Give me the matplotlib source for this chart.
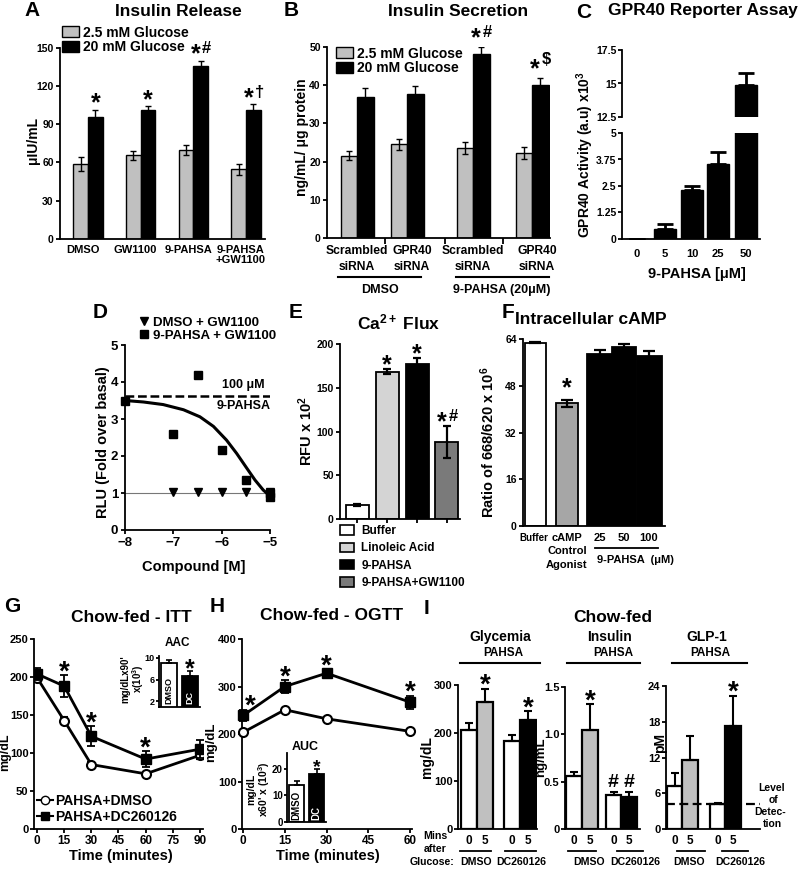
import matplotlib
matplotlib.use('Agg')
import matplotlib.pyplot as plt
from matplotlib.lines import Line2D
from matplotlib.patches import Patch
import numpy as np

# ------------------------------------------------------------------ data
# A: Insulin release
a_groups = ['DMSO', 'GW1100', '9-PAHSA', '9-PAHSA\n+GW1100']
a_low = [58.5, 65.5, 70, 54.5]
a_low_err = [5.5, 3.4, 4, 4]
a_high = [95.5, 101, 135.5, 101.5]
a_high_err = [5.8, 3.4, 4.4, 4]
a_marks = ['*', '*', '*#', '*†']
glucose_legend = ['2.5 mM Glucose', '20 mM Glucose']

# B: Insulin secretion
b_groups = ['Scrambled\nsiRNA', 'GPR40\nsiRNA', 'Scrambled\nsiRNA', 'GPR40\nsiRNA']
b_low = [21.6, 24.5, 23.6, 22.3]
b_low_err = [1.2, 1.5, 1.5, 1.6]
b_high = [36.8, 37.6, 48.1, 40.0]
b_high_err = [2.4, 2.2, 1.8, 1.8]
b_marks = ['', '', '*#', '*$']
b_treat = ['DMSO', '9-PAHSA (20μM)']

# C: GPR40 reporter
c_conc = ['0', '5', '10', '25', '50']
c_vals = [0, 0.47, 2.31, 3.52, 14.9]
c_err = [0, 0.25, 0.19, 0.6, 0.9]

# D: dose response
d_pahsa_x = [-8, -7, -6.5, -6, -5.5, -5, -5]
d_pahsa_y = [3.49, 2.6, 4.2, 2.17, 1.36, 1.0, 0.9]
d_dmso_x = [-7, -6.5, -6, -5.5, -5]
d_dmso_y = [1.02, 1.02, 1.02, 1.02, 1.02]
d_dmso_fit_x = [-8, -5]
d_dmso_fit_y = [1.0, 1.0]
d_fit_x = [-8.0, -7.62, -7.21, -6.79, -6.45, -6.17, -5.90, -5.69, -5.48, -5.31, -5.14, -5.0]
d_fit_y = [3.50, 3.46, 3.39, 3.25, 3.06, 2.80, 2.43, 2.07, 1.67, 1.35, 1.08, 0.92]
d_ref = 3.62
d_legend = ['DMSO + GW1100', '9-PAHSA + GW1100']

# E: Ca2+ flux
e_labels = ['Buffer', 'Linoleic Acid', '9-PAHSA', '9-PAHSA+GW1100']
e_vals = [16, 168.5, 177, 88]
e_err = [1, 3, 7.5, 18]
e_colors = ['white', '#d4d4d4', 'black', '#7a7a7a']
e_marks = ['', '*', '*', '*#']

# F: cAMP
f_labels = ['Buffer', 'cAMP\nControl\nAgonist', '25', '50', '100']
f_vals = [62.9, 42.1, 58.9, 61.2, 58.4]
f_err = [0.3, 1.2, 1.4, 1.2, 1.7]
f_colors = ['white', '#a6a6a6', 'black', 'black', 'black']
f_marks = ['', '*', '', '', '']

# G: ITT
g_time = [0, 15, 30, 60, 90]
g_dmso = [199, 142.6, 84.8, 72.6, 97]
g_dmso_err = [4, 5, 3, 3, 5]
g_dc = [204, 188, 122, 92, 105]
g_dc_err = [8, 14, 13, 10, 12]
g_marks = ['', '*', '*', '*', '']
g_legend = ['PAHSA+DMSO', 'PAHSA+DC260126']
g_inset = [9.0, 6.7]
g_inset_err = [0.6, 0.8]

# H: OGTT
h_time = [0, 15, 30, 60]
h_dmso = [203.5, 251, 232, 205.6]
h_dmso_err = [4, 4, 4, 4]
h_dc = [239, 300, 328, 267]
h_dc_err = [12, 13, 8, 14]
h_marks = ['*', '*', '*', '*']
h_inset = [14.0, 18.0]
h_inset_err = [1.3, 2.0]

# I: chow-fed glucose challenge
i_mins = ['0', '5', '0', '5']
i_treat = ['DMSO', 'DC260126']
i_colors = ['white', '#c0c0c0', 'white', 'black']
i_gly = [206, 264, 184, 227]
i_gly_err = [15, 28, 11, 18]
i_gly_marks = ['', '*', '', '*']
i_ins = [0.555, 1.05, 0.36, 0.336]
i_ins_err = [0.045, 0.27, 0.03, 0.055]
i_ins_marks = ['', '*', '#', '#']
i_glp = [7.2, 11.6, 4.2, 17.3]
i_glp_err = [2.2, 4.0, 0.1, 5.1]
i_glp_marks = ['', '', '', '*']
i_glp_lod = 4.2

# ------------------------------------------------------------------ style
plt.rcParams.update({
    'font.family': ['Liberation Sans', 'DejaVu Sans'],
    'font.weight': 'bold',
    'axes.labelweight': 'bold',
    'axes.linewidth': 1.3,
    'mathtext.fontset': 'custom',
    'mathtext.rm': 'Liberation Sans:bold',
    'mathtext.it': 'Liberation Sans:bold',
    'mathtext.bf': 'Liberation Sans:bold',
    'mathtext.default': 'rm',
    'xtick.major.width': 1.3, 'ytick.major.width': 1.3,
    'xtick.major.size': 3, 'ytick.major.size': 3,
})

W, H = 800, 871
fig = plt.figure(figsize=(W / 100, H / 100), dpi=100)
GRAY = '#c0c0c0'


def axpx(l, t, r, b):
    return fig.add_axes([l / W, 1 - b / H, (r - l) / W, (b - t) / H])


def txt(x, y, s, size=9, ha='center', va='center', **kw):
    fig.text(x / W, 1 - y / H, s, fontsize=size, ha=ha, va=va, fontweight='bold', **kw)


def hl(x0, x1, y, lw=1.5, **kw):
    fig.add_artist(Line2D([x0 / W, x1 / W], [1 - y / H, 1 - y / H], color='k', lw=lw, **kw))


def style(ax, ts=7.5):
    for s in ['top', 'right']:
        ax.spines[s].set_visible(False)
    ax.tick_params(labelsize=ts, pad=1.5)


def draw_bars(ax, x, h, err, w, color, up_only=False, cap=2.0, elw=1.0, lw=1.0):
    ax.bar(x, h, w, color=color, edgecolor='black', linewidth=lw, zorder=2)
    err = np.asarray(err, float)
    yerr = np.vstack([np.zeros_like(err), err]) if up_only else err
    ax.errorbar(x, h, yerr=yerr, fmt='none', ecolor='black', elinewidth=elw,
                capsize=cap, capthick=elw, zorder=3)


def mark(ax, x, y, s, dy=13, size=18, ssize=12, dx=0, sdy=0):
    """Significance mark, visual centre dy pixels above (x, y)."""
    if not s:
        return
    if s[0] == '*':
        rest = s[1:]
        sx = dx - (5 if rest else 0)
        ax.annotate('*', (x, y), xytext=(sx * 0.72, dy * 0.72 - 0.58 * size),
                    textcoords='offset points', ha='center', va='baseline',
                    fontsize=size, fontweight='bold', annotation_clip=False)
        if rest:
            ax.annotate(rest, (x, y),
                        xytext=((dx + 6) * 0.72, (dy - sdy) * 0.72 - 0.35 * ssize),
                        textcoords='offset points', ha='center', va='baseline',
                        fontsize=ssize, fontweight='bold', annotation_clip=False)
    else:
        ax.annotate(s, (x, y), xytext=(dx * 0.72, dy * 0.72 - 0.35 * ssize),
                    textcoords='offset points', ha='center', va='baseline',
                    fontsize=ssize, fontweight='bold', annotation_clip=False)


# ================================================================== A
axA = axpx(60, 47.7, 265, 239)
style(axA)
xa = np.arange(len(a_groups))
bw = 0.28
draw_bars(axA, xa - bw / 2, a_low, a_low_err, bw, GRAY)
draw_bars(axA, xa + bw / 2, a_high, a_high_err, bw, 'black')
axA.set_xlim(-0.53, 3.36)
axA.set_ylim(0, 150)
axA.set_yticks(np.arange(0, 151, 30))
axA.set_xticks(xa - 0.1)
axA.set_xticklabels(a_groups, fontsize=8, linespacing=1.0)
axA.tick_params(axis='x', length=0, pad=4)
for xi, h, e, m in zip(xa, a_high, a_high_err, a_marks):
    mark(axA, xi + bw / 2, h + e, m, dy=13.5)
axA.legend([Patch(facecolor=GRAY, edgecolor='k', lw=1), Patch(facecolor='k', edgecolor='k')],
           glucose_legend, loc='upper left', bbox_to_anchor=(0.01, 1.115), frameon=False,
           fontsize=10, handlelength=1.2, handleheight=0.85, handletextpad=0.3,
           labelspacing=0.05, borderpad=0, borderaxespad=0)
txt(33, 140, 'μIU/mL', size=10, rotation=90)
txt(32, 11, 'A', size=15)
txt(178, 11, 'Insulin Release', size=12.5)

# ================================================================== B
axB = axpx(327, 46.7, 550, 238.3)
style(axB)
xb = np.array([30, 80, 146, 205])  # group centres (pixels from spine)
bwb = 16.5
draw_bars(axB, xb - bwb / 2, b_low, b_low_err, bwb, GRAY)
draw_bars(axB, xb + bwb / 2, b_high, b_high_err, bwb, 'black')
axB.set_xlim(0, 223)
axB.set_ylim(0, 50)
axB.set_yticks(np.arange(0, 51, 10))
axB.set_xticks([58, 118, 176])
axB.set_xticklabels([])
axB.tick_params(axis='x', length=4)
for xi, h, e, m in zip(xb, b_high, b_high_err, b_marks):
    mark(axB, xi + bwb / 2, h + e, m, dy=16, sdy=-4 if m == '*$' else 0)
for xi, lab, sh in zip(xb, b_groups, [0, 5, 0, 5]):
    a, b = lab.split('\n')
    txt(327 + xi + sh, 251, a, size=8.7)
    txt(327 + xi + sh, 267, b, size=8.7)
hl(338, 421, 277)
hl(456, 549, 277)
txt(380, 290, b_treat[0], size=9)
txt(502, 290, b_treat[1], size=9)
axB.legend([Patch(facecolor=GRAY, edgecolor='k', lw=1), Patch(facecolor='k', edgecolor='k')],
           glucose_legend, loc='upper left', bbox_to_anchor=(0.04, 1.0), frameon=False,
           fontsize=10, handlelength=1.2, handleheight=0.85, handletextpad=0.3,
           labelspacing=0.05, borderpad=0, borderaxespad=0)
txt(302, 137, 'ng/mL/ μg protein', size=10, rotation=90)
txt(291, 11, 'B', size=15)
txt(458, 11, 'Insulin Secretion', size=12.5)

# ================================================================== C
axCl = axpx(622, 133, 760, 239)
axCu = axpx(622, 50, 760, 117)
xc = np.array([15, 43, 70, 96, 124])
for ax in (axCl, axCu):
    style(ax, ts=7.5)
    draw_bars(ax, xc, c_vals, c_err, 22, 'black', up_only=True, cap=5.5, elw=2.0)
    ax.set_xlim(0, 138)
    ax.tick_params(axis='y', pad=1)
axCl.set_ylim(0, 5)
axCl.set_yticks([0, 1.25, 2.5, 3.75, 5])
axCl.set_yticklabels(['0', '1.25', '2.5', '3.75', '5'])
axCl.set_xticks(xc)
axCl.set_xticklabels(c_conc, fontsize=8)
axCl.tick_params(axis='x', length=0, pad=7)
axCu.set_ylim(12.5, 17.5)
axCu.set_yticks([12.5, 15, 17.5])
axCu.set_yticklabels(['12.5', '15', '17.5'])
axCu.spines['bottom'].set_visible(False)
axCu.set_xticks([])
txt(697, 274, '9-PAHSA [μM]', size=10.5)
txt(585, 155, 'GPR40 Activity (a.u) x10$^{3}$', size=10, rotation=90)
txt(584, 12, 'C', size=15)
txt(703, 11, 'GPR40 Reporter Assay', size=12.5)

# ================================================================== D
axD = axpx(125, 345, 270, 530)
style(axD, ts=9.5)
axD.plot(d_dmso_fit_x, d_dmso_fit_y, color='#777777', lw=0.8, zorder=1)
axD.plot(d_fit_x, d_fit_y, color='black', lw=2.2, zorder=2)
axD.axhline(d_ref, xmin=0, xmax=1, color='black', lw=1.8, ls=(0, (3.5, 1.5)), zorder=2)
axD.plot(d_dmso_x, d_dmso_y, 'v', color='black', ms=5.5, ls='none', zorder=3, clip_on=False)
axD.plot(d_pahsa_x, d_pahsa_y, 's', color='black', ms=5.5, ls='none', zorder=4, clip_on=False)
axD.set_xlim(-8, -5)
axD.set_ylim(0, 5)
axD.set_xticks([-8, -7, -6, -5])
axD.set_yticks(range(6))
axD.tick_params(pad=2)
axD.text(-5.55, 3.92, '100 μM', ha='center', va='center', fontsize=9, fontweight='bold')
axD.text(-5.55, 3.36, '9-PAHSA', ha='center', va='center', fontsize=9, fontweight='bold')
axD.legend([Line2D([], [], marker='v', color='k', ls='none', ms=5.5),
            Line2D([], [], marker='s', color='k', ls='none', ms=5.5)],
           d_legend, loc='upper left', bbox_to_anchor=(0.1, 1.155), frameon=False,
           fontsize=9.5, handlelength=0.7, handletextpad=0.3, labelspacing=0.1,
           borderpad=0, borderaxespad=0)
txt(194, 567, 'Compound [M]', size=10.5)
txt(103, 442, 'RLU (Fold over basal)', size=10.5, rotation=90)
txt(100, 313, 'D', size=15)

# ================================================================== E
axE = axpx(340, 344, 460, 519)
style(axE)
xe = np.array([17, 47, 77, 107])
draw_bars(axE, xe, e_vals, e_err, 23, e_colors, cap=3, elw=1.6, lw=1.3)
axE.set_xlim(0, 120)
axE.set_ylim(0, 200)
axE.set_yticks(np.arange(0, 201, 50))
axE.set_xticks(xe)
axE.set_xticklabels([])
for xi, h, e, m in zip(xe, e_vals, e_err, e_marks):
    mark(axE, xi, h + e, m, dy=11)
axE.legend([Patch(facecolor=c, edgecolor='k', lw=1.2) for c in e_colors], e_labels,
           loc='upper left', bbox_to_anchor=(0.0, -0.035), frameon=False, fontsize=8.5,
           handlelength=1.2, handleheight=0.85, handletextpad=0.6, labelspacing=0.45,
           borderpad=0, borderaxespad=0)
txt(306, 431, 'RFU x 10$^{2}$', size=10.5, rotation=90)
txt(399, 322, 'Ca$^{2+}$ Flux', size=12.5)
txt(296, 313, 'E', size=15)

# ================================================================== F
axF = axpx(523, 339.3, 665, 525.7)
style(axF)
xf = np.array([12, 44, 76.5, 101, 126])
wf = [21, 22, 24.5, 24.5, 25]
draw_bars(axF, xf, f_vals, f_err, wf, f_colors, cap=4, elw=1.6, lw=1.3)
axF.set_xlim(0, 142)
axF.set_ylim(0, 64)
axF.set_yticks(np.arange(0, 65, 16))
axF.set_xticks([])
for xi, h, e, m in zip(xf, f_vals, f_err, f_marks):
    mark(axF, xi, h + e, m, dy=19)
for xi, lab, sz in zip(xf, f_labels, [7, 8, 8, 8, 8]):
    for k, part in enumerate(lab.split('\n')):
        txt(523 + xi - (1 if k == 0 and sz == 7 else 0), 538 + 13.5 * k, part, size=sz)
hl(595, 658, 548, lw=1.3)
txt(635, 560, '9-PAHSA  (μM)', size=8)
txt(488, 442, 'Ratio of 668/620 x 10$^{6}$', size=10.5, rotation=90)
txt(591, 320, 'Intracellular cAMP', size=12.5)
txt(508, 313, 'F', size=15)

# ================================================================== G
axG = axpx(34, 639, 203, 829)
style(axG, ts=8)
axG.errorbar(g_time, g_dmso, yerr=g_dmso_err, color='black', lw=2, marker='o', ms=6.5,
             mfc='white', mec='black', mew=1.5, capsize=3, elinewidth=1.3, capthick=1.3, zorder=3)
axG.errorbar(g_time, g_dc, yerr=g_dc_err, color='black', lw=2, marker='s', ms=6.5,
             capsize=3, elinewidth=1.3, capthick=1.3, zorder=4)
axG.set_xlim(-1.7, 91.7)
axG.set_ylim(0, 250)
axG.set_xticks(np.arange(0, 91, 15))
axG.set_yticks(np.arange(0, 251, 50))
axG.tick_params(axis='x', labelsize=8.5)
axG.tick_params(axis='y', pad=1)
for t, v, e, m in zip(g_time, g_dc, g_dc_err, g_marks):
    mark(axG, t, v + e, m, dy=12, size=20)
axG.legend([Line2D([], [], color='k', lw=1.5, marker='o', mfc='white', mec='k', ms=6),
            Line2D([], [], color='k', lw=1.5, marker='s', ms=6)],
           g_legend, loc='lower left', bbox_to_anchor=(0.02, 0.025), frameon=False,
           fontsize=10, handlelength=1.1, handletextpad=0.2, labelspacing=0.15,
           borderpad=0, borderaxespad=0)
txt(121, 856, 'Time (minutes)', size=10.5)
txt(5.5, 752, 'mg/dL', size=9, rotation=90)
txt(131, 617, 'Chow-fed - ITT', size=12.5)
txt(12, 607, 'G', size=15)

axGi = axpx(159, 655.8, 200, 707)
style(axGi, ts=6.5)
draw_bars(axGi, [10, 31], g_inset, g_inset_err, [16, 15.5], ['white', 'black'],
          up_only=True, cap=2.5, elw=1.2, lw=1.3)
axGi.set_xlim(0, 41)
axGi.set_ylim(0.9, 10.4)
axGi.set_yticks([2, 6, 10])
axGi.set_xticks([])
axGi.tick_params(pad=1, length=2)
mark(axGi, 31, g_inset[1] + g_inset_err[1], '*', dy=10, size=18)
axGi.text(10, 1.4, 'DMSO', rotation=90, ha='center', va='bottom', fontsize=6.5, fontweight='bold')
axGi.text(31, 1.4, 'DC', rotation=90, ha='center', va='bottom', fontsize=6.5,
          fontweight='bold', color='white')
txt(177, 643, 'AAC', size=8.5)
txt(133, 679, "mg/dLx90'\nx(10$^{3}$)", size=7, rotation=90, linespacing=1.0)

# ================================================================== H
axH = axpx(242, 639, 412, 829)
style(axH, ts=8)
axH.errorbar(h_time, h_dmso, yerr=h_dmso_err, color='black', lw=2, marker='o', ms=6.5,
             mfc='white', mec='black', mew=1.5, capsize=3, elinewidth=1.3, capthick=1.3,
             zorder=3, clip_on=False)
axH.errorbar(h_time, h_dc, yerr=h_dc_err, color='black', lw=2, marker='s', ms=6.5,
             capsize=3, elinewidth=1.3, capthick=1.3, zorder=4, clip_on=False)
axH.set_xlim(-0.4, 60.7)
axH.set_ylim(0, 400)
axH.set_xticks(np.arange(0, 61, 15))
axH.set_yticks(np.arange(0, 401, 100))
axH.tick_params(axis='x', labelsize=8.5)
axH.tick_params(axis='y', pad=1)
for k, (t, v, e, m) in enumerate(zip(h_time, h_dc, h_dc_err, h_marks)):
    mark(axH, t, v + e, m, dy=12, size=20, dx=7 if k == 0 else 0)
txt(328, 856, 'Time (minutes)', size=10.5)
txt(211, 742, 'mg/dL', size=9.5, rotation=90)
txt(332, 615, 'Chow-fed - OGTT', size=12.5)
txt(217, 607, 'H', size=15)

axHi = axpx(287, 753, 326, 822)
style(axHi, ts=7)
draw_bars(axHi, [9.5, 29.5], h_inset, h_inset_err, 15, ['white', 'black'],
          up_only=True, cap=2.5, elw=1.2, lw=1.3)
axHi.set_xlim(0, 39)
axHi.set_ylim(0, 26)
axHi.set_yticks([0, 10, 20])
axHi.set_xticks([])
axHi.tick_params(pad=1, length=2)
mark(axHi, 29.5, h_inset[1] + h_inset_err[1], '*', dy=8, size=14)
axHi.text(9.5, 0.8, 'DMSO', rotation=90, ha='center', va='bottom', fontsize=7, fontweight='bold')
axHi.text(29.5, 0.8, 'DC', rotation=90, ha='center', va='bottom', fontsize=7,
          fontweight='bold', color='white')
txt(305, 747, 'AUC', size=9)
txt(259, 789, "mg/dL\nx60' x (10$^{3}$)", size=7.5, rotation=90, linespacing=1.0)

# ================================================================== I
panels = [
    (axpx(458, 685, 537, 829), [11, 27, 54, 70], 79, i_gly, i_gly_err, i_gly_marks,
     (0, 300), [0, 100, 200, 300], ['0', '100', '200', '300']),
    (axpx(565, 687, 640, 829), [9, 25, 48.5, 64], 75, i_ins, i_ins_err, i_ins_marks,
     (0, 1.5), [0, 0.5, 1.0, 1.5], ['0', '0.5', '1.0', '1.5']),
    (axpx(666, 686, 760, 829), [8.5, 24, 51.5, 67], 94, i_glp, i_glp_err, i_glp_marks,
     (0, 24), [0, 6, 12, 18, 24], ['0', '6', '12', '18', '24']),
]
for ax, xi, xmax, vals, errs, marks, ylim, yt, ytl in panels:
    style(ax, ts=8)
    draw_bars(ax, xi, vals, errs, 15.5, i_colors, up_only=True, cap=3, elw=1.5, lw=1.6)
    ax.set_xlim(0, xmax)
    ax.set_ylim(*ylim)
    ax.set_yticks(yt)
    ax.set_yticklabels(ytl)
    ax.set_xticks(xi)
    ax.set_xticklabels(i_mins, fontsize=8.5)
    ax.tick_params(axis='x', length=0, pad=4)
    ax.tick_params(axis='y', pad=1)
    for x, v, e, m in zip(xi, vals, errs, marks):
        mark(ax, x, v + e, m, dy=12, size=20, ssize=14)
axGLP = panels[2][0]
axGLP.axhline(i_glp_lod, color='black', lw=1.6, ls=(0, (4, 2)), zorder=5, clip_on=False)

# lines under minute labels and treatment labels
for (l0, l1), (r0, r1), c1, c2 in [((460, 491), (505, 536), 476, 521),
                                   ((568, 596), (617, 643), 589, 635),
                                   ((677, 705), (722, 748), 689, 740)]:
    hl(l0, l1, 851, lw=1.3)
    hl(r0, r1, 851, lw=1.3)
    txt(c1, 862, i_treat[0], size=7.6)
    txt(c2, 862, i_treat[1], size=7.6)

for cx, x0, x1, name in [(500, 460, 540, 'Glycemia'), (610, 567, 640, 'Insulin'),
                          (707, 672, 747, 'GLP-1')]:
    txt(cx, 637, name, size=10)
    txt(cx + 3, 653, 'PAHSA', size=8.5)
    hl(x0, x1, 663, lw=1.5)

txt(435, 836, 'Mins', size=7.6)
txt(435, 849, 'after', size=7.6)
txt(432, 862, 'Glucose:', size=7.6)
txt(772, 788, 'Level', size=7.5)
txt(773, 800, 'of', size=7.5)
txt(770, 812, 'Detec-', size=7.5)
txt(772, 824, 'tion', size=7.5)
txt(427, 757, 'mg/dL', size=10, rotation=90)
txt(541, 757, 'ng/mL', size=9.5, rotation=90)
txt(660, 743, 'pM', size=10, rotation=90)
txt(613, 617, 'Chow-fed', size=12.5)
txt(427, 608, 'I', size=15)

fig.savefig('out.png', dpi=100)
